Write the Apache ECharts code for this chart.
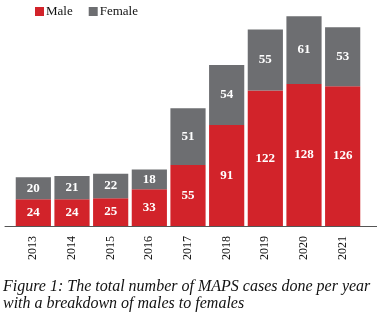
<!DOCTYPE html>
<html>
<head>
<meta charset="utf-8">
<title>MAPS cases</title>
<script src="https://cdn.jsdelivr.net/npm/echarts@6/dist/echarts.min.js"></script>
<style>
html, body { margin: 0; padding: 0; background: #fff; }
#main { width: 377px; height: 320px; }
</style>
</head>
<body>
<div id="main"></div>
<script>
// data
var years = ['2013', '2014', '2015', '2016', '2017', '2018', '2019', '2020', '2021'];
var male = [24, 24, 25, 33, 55, 91, 122, 128, 126];
var female = [20, 21, 22, 18, 51, 54, 55, 61, 53];

var serif = "'Liberation Serif', 'DejaVu Serif', serif";
var chart = echarts.init(document.getElementById('main'));

var segLabel = {
  show: true,
  position: 'inside',
  color: '#fff',
  fontFamily: serif,
  fontWeight: 'bold',
  fontSize: 13
};

chart.setOption({
  animation: false,
  title: {
    text: 'Figure 1: The total number of MAPS cases done per year\nwith a breakdown of males to females',
    left: 3,
    top: 278,
    padding: 0,
    textStyle: {
      fontFamily: serif,
      fontStyle: 'italic',
      fontWeight: 'normal',
      fontSize: 16,
      lineHeight: 17,
      color: '#111'
    }
  },
  legend: {
    left: 35,
    top: 5,
    padding: 0,
    itemWidth: 9,
    itemHeight: 9,
    itemGap: 16,
    icon: 'rect',
    textStyle: { fontFamily: serif, fontSize: 13, color: '#111', padding: [0, 0, 0, -3] },
    data: ['Male', 'Female']
  },
  grid: [
    { left: 14, right: 15, top: 4, bottom: 94 },
    // wider grid only for the longer baseline
    { left: 5, right: 0, top: 4, bottom: 94 }
  ],
  xAxis: [
    {
      type: 'category',
      gridIndex: 0,
      data: years,
      axisLine: { show: false },
      axisTick: { show: false },
      axisLabel: {
        rotate: 90,
        margin: 10,
        fontFamily: serif,
        fontSize: 12,
        color: '#111'
      }
    },
    {
      type: 'category',
      gridIndex: 1,
      data: years,
      axisLine: { lineStyle: { color: '#555', width: 1 } },
      axisTick: { show: false },
      axisLabel: { show: false }
    }
  ],
  yAxis: [
    { type: 'value', gridIndex: 0, min: 0, max: 200, show: false },
    { type: 'value', gridIndex: 1, min: 0, max: 200, show: false }
  ],
  series: [
    {
      name: 'Male',
      type: 'bar',
      stack: 'total',
      data: male,
      barCategoryGap: '9%',
      itemStyle: { color: '#d2232a' },
      label: segLabel,
      z: 3
    },
    {
      name: 'Female',
      type: 'bar',
      stack: 'total',
      data: female,
      itemStyle: { color: '#6d6e71' },
      label: segLabel,
      z: 3
    }
  ]
});
</script>
</body>
</html>
